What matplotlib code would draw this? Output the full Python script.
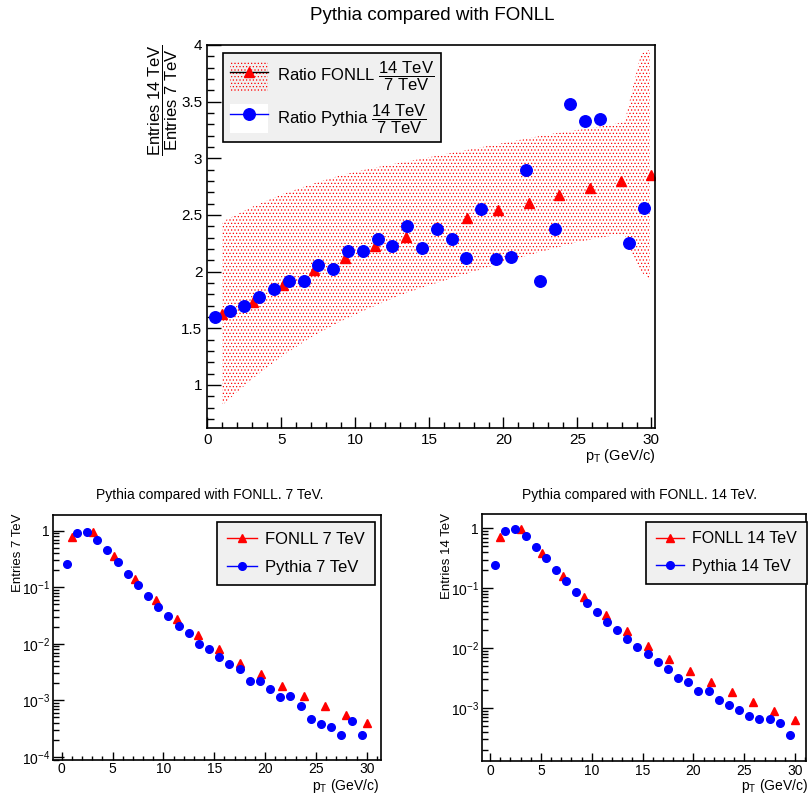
import matplotlib
matplotlib.use("Agg")
import matplotlib.pyplot as plt
from matplotlib.patches import Patch
from matplotlib.lines import Line2D
from matplotlib.ticker import MultipleLocator, FuncFormatter, LogLocator, NullFormatter
import numpy as np

plt.rcParams['font.family'] = ['Liberation Sans', 'DejaVu Sans']
plt.rcParams['mathtext.fontset'] = 'custom'
plt.rcParams['mathtext.rm'] = 'Liberation Sans'
plt.rcParams['mathtext.it'] = 'Liberation Sans:italic'
plt.rcParams['mathtext.bf'] = 'Liberation Sans:bold'
plt.rcParams['hatch.linewidth'] = 0.5

# ---------------- data ----------------
pt_pythia = [0.5, 1.5, 2.5, 3.5, 4.5, 5.5, 6.5, 7.5, 8.5, 9.5, 10.5, 11.5, 12.5, 13.5, 14.5,
             15.5, 16.5, 17.5, 18.5, 19.5, 20.5, 21.5, 22.5, 23.5, 24.5, 25.5, 26.5, 27.5, 28.5, 29.5]
pt_fonll = [1.0, 3.07, 5.14, 7.21, 9.29, 11.36, 13.43, 15.5, 17.57, 19.64, 21.71, 23.79, 25.86, 27.93, 30.0]

ratio_fonll = [1.63, 1.735, 1.88, 2.015, 2.12, 2.23, 2.31, 2.39, 2.47, 2.54, 2.61, 2.68, 2.74, 2.80, 2.856]
ratio_pythia = [1.597, 1.656, 1.70, 1.78, 1.85, 1.92, 1.92, 2.06, 2.02, 2.18, 2.185, 2.29, 2.23, 2.40, 2.21,
                2.38, 2.29, 2.12, 2.55, 2.11, 2.13, 2.90, 1.92, 2.38, 3.48, 3.33, 3.35, np.nan, 2.25, 2.56]

band_x = [1, 3, 5, 7, 9, 11, 13, 15, 17, 19, 21, 23, 25, 27, 28.2, 28.7, 29.3, 29.9]
band_up = [2.44, 2.57, 2.68, 2.77, 2.85, 2.91, 2.96, 3.01, 3.06, 3.11, 3.16, 3.21, 3.25, 3.29, 3.32, 3.60, 3.92, 3.96]
band_lo = [0.82, 1.05, 1.25, 1.42, 1.56, 1.68, 1.79, 1.88, 1.96, 2.04, 2.12, 2.19, 2.26, 2.31, 2.33, 2.15, 2.00, 1.93]

pythia7 = [0.263, 0.91, 0.97, 0.70, 0.45, 0.28, 0.175, 0.108, 0.0716, 0.0448, 0.0308, 0.0203, 0.0153,
           0.0101, 0.00807, 0.00578, 0.00436, 0.00357, 0.0022, 0.00217, 0.00156, 0.00113, 0.00121,
           0.000807, 0.00046, 0.00038, 0.000338, 0.000242, 0.000436, 0.000242]
fonll7 = [0.785, 0.96, 0.36, 0.138, 0.0593, 0.028, 0.01435, 0.00797, 0.00466, 0.00288, 0.00183,
          0.00119, 0.000807, 0.000562, 0.000392]

pythia14 = [0.245, 0.89, 0.975, 0.735, 0.495, 0.316, 0.20, 0.132, 0.0847, 0.057, 0.0393, 0.0275, 0.020,
            0.0141, 0.01026, 0.00794, 0.00577, 0.0044, 0.0032, 0.00268, 0.0019, 0.0019, 0.00136,
            0.00111, 0.000914, 0.000736, 0.000648, 0.000648, 0.000555, 0.000355]
fonll14 = [0.726, 0.96, 0.393, 0.158, 0.0708, 0.035, 0.019, 0.0108, 0.00648, 0.00408, 0.00268,
           0.00182, 0.00126, 0.00089, 0.00064]

W, H = 811, 794
fig = plt.figure(figsize=(W / 100, H / 100), dpi=100)


def px_axes(l, t, r, b):
    return fig.add_axes([l / W, 1 - b / H, (r - l) / W, (b - t) / H])


def style_axes(ax, lw=1.2):
    for s in ax.spines.values():
        s.set_linewidth(lw)
    ax.tick_params(which='both', direction='in', top=False, right=False)


# ---------------- top ratio plot ----------------
ax = px_axes(207.3, 45, 655, 428)
style_axes(ax)
ax.fill_between(band_x, band_lo, band_up, facecolor='none', edgecolor='red',
                hatch='.....', linewidth=0)
ax.plot(pt_fonll, ratio_fonll, linestyle='none', marker='^', color='red', markersize=7)
ax.plot(pt_pythia, ratio_pythia, linestyle='none', marker='o', color='blue', markersize=8.3)
ax.set_xlim(0, 30.25)
ax.set_ylim(0.62, 4.0)
ax.xaxis.set_major_locator(MultipleLocator(5))
ax.xaxis.set_minor_locator(MultipleLocator(1))
ax.yaxis.set_major_locator(MultipleLocator(0.5))
ax.yaxis.set_minor_locator(MultipleLocator(0.1))
ax.yaxis.set_major_formatter(FuncFormatter(lambda v, p: '%g' % v))
ax.tick_params(axis='both', which='major', labelsize=11)
ax.tick_params(axis='y', which='major', length=10, width=1)
ax.tick_params(axis='y', which='minor', length=5, width=1)
ax.tick_params(axis='x', which='major', length=8, width=1)
ax.tick_params(axis='x', which='minor', length=4, width=1)

h_fonll = (Patch(facecolor='none', edgecolor='red', hatch='.....', linewidth=0),
           Line2D([], [], color='black', lw=1, marker='^', markerfacecolor='red',
                  markeredgecolor='red', markersize=7))
h_pyth = (Patch(facecolor='white', edgecolor='none'),
          Line2D([], [], color='blue', lw=1, marker='o', markerfacecolor='blue',
                 markeredgecolor='blue', markersize=8.3))
leg = ax.legend([h_fonll, h_pyth],
                [r'Ratio FONLL $\dfrac{\mathrm{14\ TeV}}{\mathrm{7\ TeV}}$',
                 r'Ratio Pythia $\dfrac{\mathrm{14\ TeV}}{\mathrm{7\ TeV}}$'],
                loc='upper left', bbox_to_anchor=(223.3 / W, 1 - 53.3 / H),
                bbox_transform=fig.transFigure, borderaxespad=0, fontsize=12,
                frameon=True, fancybox=False, edgecolor='black', facecolor='#f0f0f0',
                framealpha=1, handlelength=2.3, handleheight=2.3, labelspacing=0.55,
                borderpad=0.4, handletextpad=0.5)
leg.get_frame().set_linewidth(1.2)

fig.text(432 / W, 1 - 16 / H, 'Pythia compared with FONLL', ha='center', va='center', fontsize=13.5)
fig.text(163 / W, 1 - 100 / H, r'$\dfrac{\mathrm{Entries\ 14\ TeV}}{\mathrm{Entries\ 7\ TeV}}$',
         rotation=90, ha='center', va='center', fontsize=12)
fig.text(655 / W, 1 - 456 / H, r'p$_{\mathrm{T}}$ (GeV/c)', ha='right', va='center', fontsize=10.5)


# ---------------- bottom spectra ----------------
def spectrum(box, xlim, ylim, pyth, fonl, lab_f, lab_p, title, tx, ylab, ylx, xlab_r,
             leg_anchor, leg_fs):
    a = px_axes(*box)
    style_axes(a)
    a.set_yscale('log')
    a.plot(pt_fonll, fonl, linestyle='none', marker='^', color='red', markersize=5.5)
    a.plot(pt_pythia, pyth, linestyle='none', marker='o', color='blue', markersize=5.5)
    a.set_xlim(*xlim)
    a.set_ylim(*ylim)
    a.xaxis.set_major_locator(MultipleLocator(5))
    a.xaxis.set_minor_locator(MultipleLocator(1))
    a.yaxis.set_major_locator(LogLocator(base=10, numticks=10))
    a.yaxis.set_minor_locator(LogLocator(base=10, subs=np.arange(2, 10), numticks=10))
    a.yaxis.set_minor_formatter(NullFormatter())

    def fmt(v, p):
        e = int(round(np.log10(v)))
        return '1' if e == 0 else r'$10^{%d}$' % e
    a.yaxis.set_major_formatter(FuncFormatter(fmt))
    a.tick_params(axis='both', which='major', labelsize=10, pad=2)
    a.tick_params(axis='y', which='major', length=8, width=1)
    a.tick_params(axis='y', which='minor', length=4, width=1)
    a.tick_params(axis='x', which='major', length=6, width=1)
    a.tick_params(axis='x', which='minor', length=3, width=1)
    hf = Line2D([], [], color='red', lw=1, marker='^', markersize=5.5)
    hp = Line2D([], [], color='blue', lw=1, marker='o', markersize=5.5)
    lg = a.legend([hf, hp], [lab_f, lab_p], loc='upper left',
                  bbox_to_anchor=(leg_anchor[0] / W, 1 - leg_anchor[1] / H),
                  bbox_transform=fig.transFigure, borderaxespad=0, fontsize=leg_fs,
                  frameon=True, fancybox=False, edgecolor='black', facecolor='#f0f0f0',
                  framealpha=1, handlelength=1.8, labelspacing=0.8, borderpad=0.6,
                  handletextpad=0.5)
    lg.get_frame().set_linewidth(1.2)
    fig.text(tx / W, 1 - 495 / H, title, ha='center', va='center', fontsize=10)
    fig.text(ylx / W, 1 - 513 / H, ylab, rotation=90, ha='center', va='top', fontsize=9.5)
    fig.text(xlab_r / W, 1 - 786 / H, r'p$_{\mathrm{T}}$ (GeV/c)', ha='right', va='center',
             fontsize=10)
    return a


spectrum((52.7, 515, 381, 759.5), (-0.885, 31.4), (9.0e-5, 1.9), pythia7, fonll7,
         'FONLL 7 TeV', 'Pythia 7 TeV', 'Pythia compared with FONLL. 7 TeV.', 210,
         'Entries 7 TeV', 18, 379, (216.7, 521.7), 12)
spectrum((481.7, 514, 805.7, 761), (-0.82, 31.05), (1.3e-4, 1.73), pythia14, fonll14,
         'FONLL 14 TeV', 'Pythia 14 TeV', 'Pythia compared with FONLL. 14 TeV.', 640,
         'Entries 14 TeV', 447, 808, (646, 521.7), 11.5)

fig.savefig('out.png', dpi=100)
